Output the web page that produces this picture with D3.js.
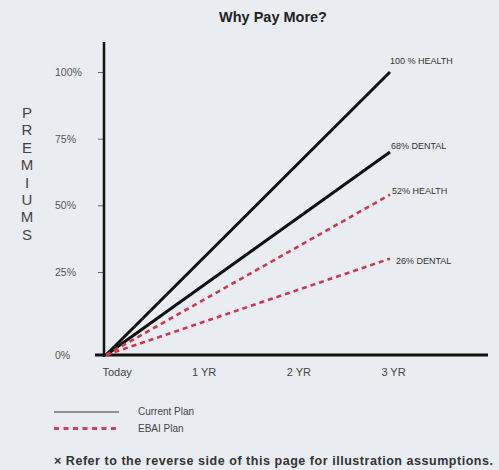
<!DOCTYPE html>
<html>
<head>
<meta charset="utf-8">
<script src="https://cdn.jsdelivr.net/npm/d3@7"></script>
<style>
  body { margin: 0; background: #e9edf1; }
  text { font-family: "Liberation Sans", Arial, sans-serif; }
</style>
</head>
<body>
<div id="chart"></div>
<script>
// data
var years = [0, 1, 2, 3];
var yearLabels = ["Today", "1 YR", "2 YR", "3 YR"];
var pctTicks = [0, 25, 50, 75, 100];
var seriesNames = ["100 % HEALTH", "68% DENTAL", "52% HEALTH", "26% DENTAL"];
var seriesPlan = ["current", "current", "ebai", "ebai"];
var seriesEnd = [100, 70, 54, 30];   // value reached at 3 YR
var axisLetters = ["P", "R", "E", "M", "I", "U", "M", "S"];
var legendNames = ["Current Plan", "EBAI Plan"];

var width = 499, height = 470;

var svg = d3.select("#chart")
  .append("svg")
  .attr("width", width)
  .attr("height", height);

// pale background
svg.append("rect")
  .attr("width", width).attr("height", height)
  .attr("fill", "#e9edf1");

// scales (0% sits a bit lower than the even spacing of the other ticks)
var x = d3.scaleLinear().domain([0, 3]).range([106, 390]);
var y = d3.scaleLinear().domain([0, 25, 100]).range([355, 272, 72]);

// title
svg.append("text")
  .attr("x", 273).attr("y", 22)
  .attr("text-anchor", "middle")
  .style("font-weight", "bold")
  .style("font-size", "14.5px")
  .attr("fill", "#222")
  .text("Why Pay More?");

// vertical axis title
svg.selectAll(".letter")
  .data(axisLetters)
  .enter()
  .append("text")
  .attr("x", 27)
  .attr("y", function(d, i) { return 118 + i * 17.4; })
  .attr("text-anchor", "middle")
  .style("font-size", "15px")
  .attr("fill", "#444")
  .text(function(d) { return d; });

// y axis
var yAxis = svg.append("g")
  .attr("transform", "translate(104,0)")
  .call(d3.axisLeft(y).tickValues(pctTicks).tickSize(6).tickFormat(function(d) { return d + "%"; }));
yAxis.select(".domain").remove();
yAxis.selectAll(".tick line").attr("stroke", "#666");
yAxis.selectAll(".tick text")
  .attr("x", -49)
  .attr("text-anchor", "start")
  .style("font-size", "10.5px")
  .attr("fill", "#555");

svg.append("line")
  .attr("x1", 104).attr("x2", 104)
  .attr("y1", 42).attr("y2", 357)
  .attr("stroke", "#111").attr("stroke-width", 2.5);

// x axis
var xAxis = svg.append("g")
  .attr("transform", "translate(0,355)")
  .call(d3.axisBottom(x).tickValues(years).tickSize(0).tickPadding(13)
    .tickFormat(function(d, i) { return yearLabels[i]; }));
xAxis.select(".domain").remove();
xAxis.selectAll(".tick text")
  .style("font-size", "11px")
  .attr("fill", "#444")
  .attr("text-anchor", function(d) { return d == 0 ? "start" : "middle"; })
  .attr("x", function(d) { return d == 0 ? -4 : 3; });

svg.append("line")
  .attr("x1", 95).attr("x2", 488)
  .attr("y1", 355).attr("y2", 355)
  .attr("stroke", "#111").attr("stroke-width", 3);

// lines
var line = d3.line()
  .x(function(d) { return x(d[0]); })
  .y(function(d) { return y(d[1]); });

var series = seriesNames.map(function(name, i) {
  return { name: name, plan: seriesPlan[i],
           pts: [[0, 0], [3, seriesEnd[i]]] };
});

svg.selectAll(".series")
  .data(series)
  .enter()
  .append("path")
  .attr("d", function(d) { return line(d.pts); })
  .attr("fill", "none")
  .attr("stroke", function(d) { return d.plan == "current" ? "#111" : "#cc3a4a"; })
  .attr("stroke-width", function(d) { return d.plan == "current" ? 3 : 2.6; })
  .attr("stroke-dasharray", function(d) { return d.plan == "current" ? null : "5,4"; });

var labelDx = [0, 1, 2, 6];
var labelDy = [-8, -3, -1, 5];
svg.selectAll(".slabel")
  .data(series)
  .enter()
  .append("text")
  .attr("x", function(d, i) { return x(3) + labelDx[i]; })
  .attr("y", function(d, i) { return y(d.pts[1][1]) + labelDy[i]; })
  .style("font-size", "9px")
  .attr("fill", "#333")
  .text(function(d) { return d.name; });

// legend
var legend = svg.selectAll(".legend")
  .data(legendNames)
  .enter()
  .append("g")
  .attr("transform", function(d, i) { return "translate(54," + (412 + i * 16.5) + ")"; });

legend.append("line")
  .attr("x1", 0).attr("x2", 65)
  .attr("stroke", function(d, i) { return i == 0 ? "#8a958c" : "#d2405e"; })
  .attr("stroke-width", function(d, i) { return i == 0 ? 2 : 3; })
  .attr("stroke-dasharray", function(d, i) { return i == 0 ? null : "5,4.5"; });

legend.append("text")
  .attr("x", 84).attr("y", 3)
  .style("font-size", "10px")
  .attr("fill", "#444")
  .text(function(d) { return d; });

// footnote
svg.append("text")
  .attr("x", 54).attr("y", 465)
  .attr("textLength", 439)
  .style("font-size", "12.5px")
  .style("font-weight", "bold")
  .attr("fill", "#333")
  .text("\u00d7 Refer to the reverse side of this page for illustration assumptions.");
</script>
</body>
</html>
